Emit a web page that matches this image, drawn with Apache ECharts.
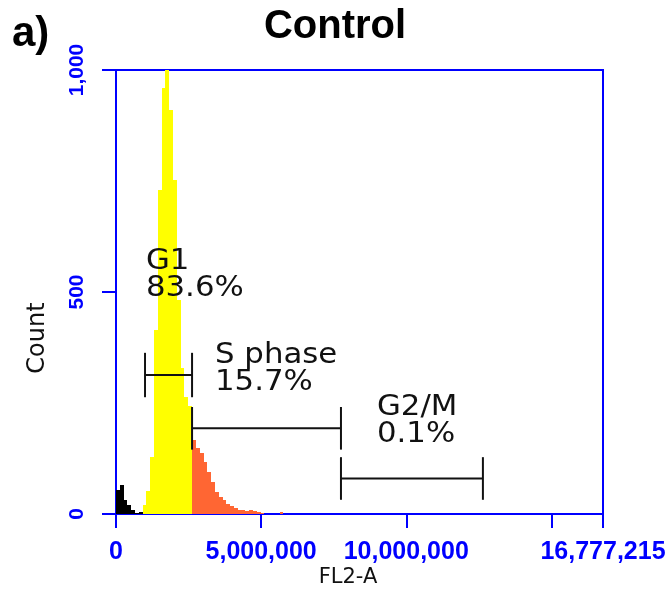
<!DOCTYPE html>
<html><head><meta charset="utf-8">
<script src="https://cdn.jsdelivr.net/npm/echarts@6/dist/echarts.min.js"></script>
<style>html,body{margin:0;padding:0;background:#fff}#c{width:672px;height:591px}</style>
</head><body><div id="c"></div>
<script>
// ---- data ----
const binWidth = 131072;               // FL2-A channel width
const xMax = 16777215;
const debrisStartBin = 0;
const debrisCounts = [54, 65, 32, 20, 9, 2, 4];
const g1StartBin = 7;
const g1Counts = [20, 52, 128, 414, 730, 960, 1000, 910, 752, 482, 329, 264, 243];
const sStartBin = 20;
const sCounts = [167, 149, 137, 117, 95, 72, 50, 38, 32, 23, 18, 14, 9, 8, 7, 9, 6, 4, 2, 0, 0, 0, 0, 4];

const gateNames = ['G1', 'S phase', 'G2/M'];
const gatePercents = ['83.6%', '15.7%', '0.1%'];
const gateStart = [1000000, 2620000, 7750000];
const gateEnd = [2620000, 7750000, 12640000];
const gateLevel = [313, 193, 80];
const gateHalf = [50, 48, 48];
const gateLabelX = [1030000, 3410000, 8990000];
const gateLabelY = [538, 326, 208];

const xTickStep = 5000000;
const yTickStep = 500;

// ---- build ----
const phaseColors = ['#000000', '#FFFF00', '#FF6633'];
function addBins(out, startBin, counts, group) {
  counts.forEach((c, i) => out.push([(startBin + i) * binWidth, c, group]));
}
const histData = [];
addBins(histData, debrisStartBin, debrisCounts, 0);
addBins(histData, g1StartBin, g1Counts, 1);
addBins(histData, sStartBin, sCounts, 2);

const gateData = gateNames.map((n, i) => [gateStart[i], gateEnd[i], gateLevel[i], gateHalf[i], gateLabelX[i], gateLabelY[i]]);

function commas(v) { return String(Math.round(v)).replace(/\B(?=(\d{3})+(?!\d))/g, ','); }

const blue = '#0000FF';
const chart = echarts.init(document.getElementById('c'), null, {renderer: 'canvas'});
chart.setOption({
  animation: false,
  backgroundColor: '#fff',
  grid: {left: 116, right: 69, top: 70, bottom: 77, show: true, borderColor: blue, borderWidth: 2, backgroundColor: 'transparent'},
  xAxis: {
    type: 'value', min: 0, max: xMax, interval: xTickStep,
    axisLine: {show: true, lineStyle: {color: blue, width: 2}},
    axisTick: {show: true, inside: false, length: 14, lineStyle: {color: blue, width: 2}},
    axisLabel: {color: blue, fontFamily: 'Liberation Sans', fontWeight: 'bold', fontSize: 25, margin: 26,
      formatter: v => (v === 15000000 ? '' : commas(v))},
    splitLine: {show: false}
  },
  yAxis: {
    type: 'value', min: 0, max: 1000, interval: yTickStep,
    axisLine: {show: true, lineStyle: {color: blue, width: 2}},
    axisTick: {show: true, inside: false, length: 14, lineStyle: {color: blue, width: 2}},
    axisLabel: {color: blue, fontFamily: 'Liberation Sans', fontWeight: 'bold', fontSize: 21, margin: 28, rotate: 90,
      formatter: v => commas(v)},
    splitLine: {show: false}
  },
  series: [
    {
      type: 'custom', clip: true, data: histData, encode: {x: 0, y: 1},
      renderItem: function (params, api) {
        const s = api.value(0), c = api.value(1), g = api.value(2);
        const p0 = api.coord([s, c]);
        const p1 = api.coord([s + binWidth, 0]);
        const xa = Math.round(p0[0]), xb = Math.round(p1[0]);
        const ya = Math.round(p0[1]), yb = Math.round(p1[1]);
        return {type: 'rect', shape: {x: xa, y: ya, width: xb - xa, height: yb - ya},
          style: {fill: phaseColors[g]}};
      }
    },
    {
      type: 'custom', data: gateData, encode: {x: [0, 1], y: 2},
      renderItem: function (params, api) {
        const i = params.dataIndex;
        const x1 = api.value(0), x2 = api.value(1), lv = api.value(2), h = api.value(3);
        const a = api.coord([x1, lv]), b = api.coord([x2, lv]);
        const top = api.coord([x1, lv + h])[1], bot = api.coord([x1, lv - h])[1];
        const t = api.coord([api.value(4), api.value(5)]);
        const ls = {stroke: '#111', lineWidth: 2};
        return {type: 'group', children: [
          {type: 'line', shape: {x1: a[0], y1: a[1], x2: b[0], y2: b[1]}, style: ls},
          {type: 'line', shape: {x1: a[0], y1: top, x2: a[0], y2: bot}, style: ls},
          {type: 'line', shape: {x1: b[0], y1: top, x2: b[0], y2: bot}, style: ls},
          {type: 'text', x: t[0], y: t[1], scaleX: 1.1, style: {text: gateNames[i] + '\n' + gatePercents[i],
            fontFamily: 'DejaVu Sans', fontSize: 28, lineHeight: 27, fill: '#111', align: 'left', verticalAlign: 'middle'}}
        ]};
      }
    }
  ],
  graphic: [
    {type: 'text', x: 335, y: 27, style: {text: 'Control', fontFamily: 'Liberation Sans', fontWeight: 'bold', fontSize: 40, fill: '#000', align: 'center', verticalAlign: 'middle'}},
    {type: 'text', x: 12, y: 34, style: {text: 'a)', fontFamily: 'Liberation Sans', fontWeight: 'bold', fontSize: 42, fill: '#000', align: 'left', verticalAlign: 'middle'}},
    {type: 'text', x: 38, y: 338, rotation: Math.PI / 2, style: {text: 'Count', fontFamily: 'DejaVu Sans', fontSize: 24, fill: '#111', align: 'center', verticalAlign: 'middle'}},
    {type: 'text', x: 348, y: 578, style: {text: 'FL2-A', fontFamily: 'DejaVu Sans', fontSize: 21, fill: '#111', align: 'center', verticalAlign: 'middle'}}
  ]
});
</script></body></html>
